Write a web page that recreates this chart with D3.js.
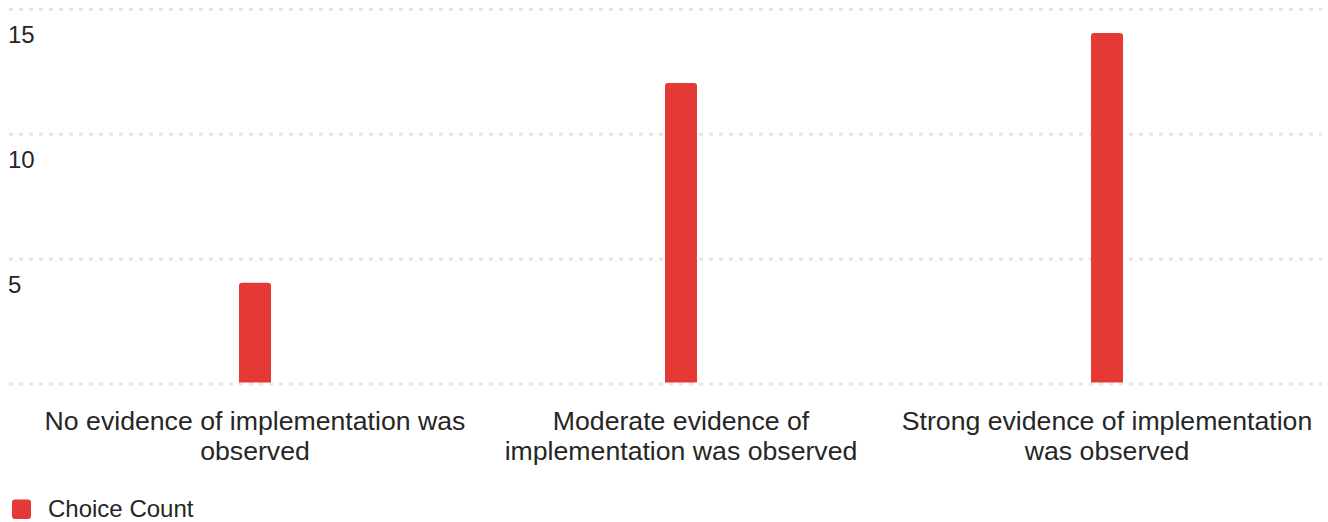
<!DOCTYPE html>
<html>
<head>
<meta charset="utf-8">
<script src="https://cdn.jsdelivr.net/npm/d3@7"></script>
<style>
  html, body { margin: 0; padding: 0; background: #fff; }
  svg { display: block; font-family: "Liberation Sans", Arial, Helvetica, sans-serif; }
</style>
</head>
<body>
<svg id="chart" width="1328" height="522"></svg>
<script>
const categories = [
  "No evidence of implementation was observed",
  "Moderate evidence of implementation was observed",
  "Strong evidence of implementation was observed"
];
const seriesName = "Choice Count";
const values = [4, 12, 14];
const yTicks = [0, 5, 10, 15];
const yTickLabels = ["", "5", "10", "15"];

const svg = d3.select("#chart");
const barColor = "#e53935";
const textColor = "#262626";

const x = d3.scaleBand().domain(categories).range([42, 1320]).padding(0);
const y = d3.scaleLinear().domain([0, 15]).range([382.5, 8]);
const barW = 32;

// gridlines
svg.append("g").selectAll("line").data(yTicks).join("line")
  .attr("x1", 9).attr("x2", 1322)
  .attr("y1", d => y(d) + 1.5).attr("y2", d => y(d) + 1.5)
  .attr("stroke", "#e6e6e6").attr("stroke-width", 3)
  .attr("stroke-dasharray", "4,6");

// y tick labels (below gridlines, left aligned)
svg.append("g").selectAll("text").data(yTicks).join("text")
  .attr("x", 8).attr("y", d => y(d) + 35)
  .attr("font-size", 24).attr("fill", textColor)
  .text((d, i) => yTickLabels[i]);

// bars
const r = 3;
svg.append("g").selectAll("path").data(values).join("path")
  .attr("fill", barColor)
  .attr("d", (d, i) => {
    const cx = x(categories[i]) + x.bandwidth() / 2;
    const x0 = cx - barW / 2, x1 = cx + barW / 2;
    const yt = y(d), yb = y(0);
    return `M${x0},${yb}V${yt + r}Q${x0},${yt} ${x0 + r},${yt}H${x1 - r}Q${x1},${yt} ${x1},${yt + r}V${yb}Z`;
  });

// category labels with wrapping
const labG = svg.append("g");
categories.forEach(c => {
  const cx = x(c) + x.bandwidth() / 2;
  const t = labG.append("text")
    .attr("x", cx).attr("y", 430)
    .attr("text-anchor", "middle")
    .attr("font-size", 26.67).attr("fill", textColor);
  const words = c.split(" ");
  let line = [];
  let lineNo = 0;
  let ts = t.append("tspan").attr("x", cx).attr("y", 430);
  words.forEach(w => {
    line.push(w);
    ts.text(line.join(" "));
    if (ts.node().getComputedTextLength() > x.step() && line.length > 1) {
      line.pop();
      ts.text(line.join(" "));
      line = [w];
      lineNo++;
      ts = t.append("tspan").attr("x", cx).attr("y", 430 + lineNo * 30).text(w);
    }
  });
});

// legend
const leg = svg.append("g");
leg.append("rect").attr("x", 12).attr("y", 499.5).attr("width", 19).attr("height", 19.5)
  .attr("rx", 3).attr("fill", barColor);
leg.append("text").attr("x", 48).attr("y", 516.5)
  .attr("font-size", 24).attr("fill", textColor).text(seriesName);
</script>
</body>
</html>
